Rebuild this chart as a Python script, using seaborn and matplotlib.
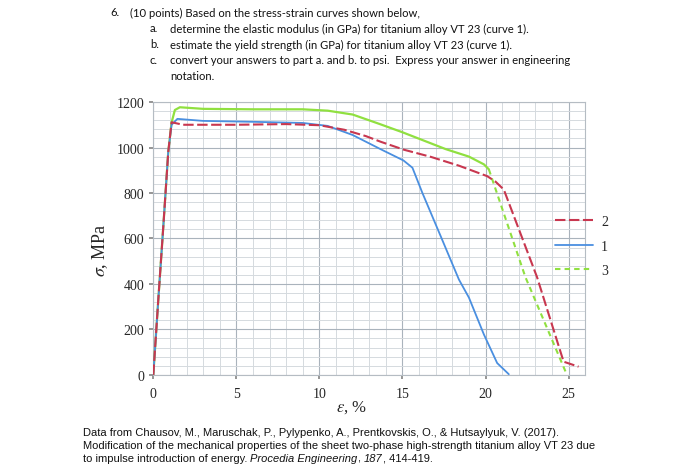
import numpy as np
import pandas as pd
import matplotlib
matplotlib.use("Agg")
import matplotlib.pyplot as plt
import seaborn as sns
from matplotlib.ticker import MultipleLocator

# Curve 1 (blue), curve 2 (red), curve 3 (green)
strain_1 = [0.0, 0.3, 0.6, 0.9, 1.1, 1.45, 3, 6, 9, 10.5, 12, 13.7, 15.06, 15.6, 16.2, 17.3, 18.4, 19.0, 19.9, 20.7, 21.4]
stress_1 = [0, 330, 650, 980, 1100, 1126, 1117, 1113, 1108, 1095, 1055, 992, 943, 911, 800, 610, 419, 340, 178, 52, 3]

strain_2 = [0.0, 0.3, 0.6, 0.9, 1.1, 1.8, 5, 8, 10, 11.5, 12.8, 13.7, 15.1, 16.7, 18.4, 20.1, 20.6, 21.1, 23.1, 24.7, 25.6]
stress_2 = [0, 330, 650, 980, 1111, 1100, 1100, 1103, 1098, 1078, 1050, 1025, 990, 959, 920, 874, 850, 815, 430, 58, 36]

strain_3 = [0.0, 0.3, 0.6, 0.9, 1.1, 1.3, 1.6, 3, 6, 9, 10.5, 12, 13.6, 15.0, 16.3, 17.6, 19.0, 19.9, 20.2]
stress_3 = [0, 330, 650, 980, 1110, 1165, 1177, 1170, 1168, 1168, 1162, 1145, 1104, 1067, 1030, 993, 960, 926, 904]
strain_3_tail = [20.2, 22.4, 24.9]
stress_3_tail = [904, 430, 0]

x_ticks = [0, 5, 10, 15, 20, 25]
y_ticks = [0, 200, 400, 600, 800, 1000, 1200]

q_marks = ["6.", "a.", "b.", "c.", ""]
q_lines = [
    "(10 points) Based on the stress-strain curves shown below,",
    "determine the elastic modulus (in GPa) for titanium alloy VT 23 (curve 1).",
    "estimate the yield strength (in GPa) for titanium alloy VT 23 (curve 1).",
    "convert your answers to part a. and b. to psi.  Express your answer in engineering",
    "notation.",
]

RED = "#c8374f"
BLUE = "#4a8fe0"
GREEN = "#90e040"

sns.set_theme(style="white")
plt.rcParams["font.family"] = ["Liberation Serif", "DejaVu Serif"]
plt.rcParams["mathtext.fontset"] = "stix"

fig = plt.figure(figsize=(7, 4.77), dpi=100)
ax = fig.add_axes([0.219, 0.212, 0.617, 0.572])

d1 = pd.DataFrame({"strain": strain_1, "stress": stress_1})
d2 = pd.DataFrame({"strain": strain_2, "stress": stress_2})
d3 = pd.DataFrame({"strain": strain_3, "stress": stress_3})
d3t = pd.DataFrame({"strain": strain_3_tail, "stress": stress_3_tail})

sns.lineplot(data=d3, x="strain", y="stress", ax=ax, color=GREEN, lw=1.6, zorder=3)
sns.lineplot(data=d3t, x="strain", y="stress", ax=ax, color=GREEN, lw=1.5, label="3", zorder=3)
ax.lines[-1].set_dashes((2.6, 2.0))
sns.lineplot(data=d1, x="strain", y="stress", ax=ax, color=BLUE, lw=1.3, label="1", zorder=4)
sns.lineplot(data=d2, x="strain", y="stress", ax=ax, color=RED, lw=1.5, label="2", zorder=5)
ax.lines[-1].set_dashes((5, 1.7))

ax.set_xlim(0, 26)
ax.set_ylim(0, 1200)
ax.set_xticks(x_ticks)
ax.set_yticks(y_ticks)
ax.xaxis.set_minor_locator(MultipleLocator(1))
ax.yaxis.set_minor_locator(MultipleLocator(40))
ax.grid(which="major", color="#aab3bc", lw=0.8)
ax.grid(which="minor", color="#d5dade", lw=0.7)
ax.set_axisbelow(True)
for s in ax.spines.values():
    s.set_color("#b5bcc3")
    s.set_linewidth(0.8)
ax.tick_params(axis="both", which="major", labelsize=10, length=3, color="#888888",
               bottom=True, left=True)
ax.tick_params(axis="x", pad=6)

ax.set_xlabel(r"$\varepsilon$, %", fontsize=12)
ax.set_ylabel(r"$\sigma$, MPa", fontsize=13)
ax.xaxis.set_label_coords(0.46, -0.117)
ax.yaxis.set_label_coords(-0.123, 0.46)
ax.xaxis.label.set_va("center")
ax.yaxis.label.set_va("center")

h, l = ax.get_legend_handles_labels()
order = [l.index("2"), l.index("1"), l.index("3")]
ax.legend([h[i] for i in order], [l[i] for i in order], frameon=False,
          loc="center left", bbox_to_anchor=(0.793, 0.482), bbox_transform=fig.transFigure,
          fontsize=10, handlelength=2.7, handletextpad=0.6, labelspacing=0.82,
          borderpad=0, borderaxespad=0)

# question text above the chart
q_y = [13, 29, 45, 61, 77]
for i in range(len(q_lines)):
    mx = 110 if i == 0 else 150
    tx = 130 if i == 0 else 170
    if q_marks[i]:
        fig.text(mx / 700, 1 - q_y[i] / 477, q_marks[i], fontsize=8.1, family="Lato",
                 va="center", color="#111111")
    fig.text(tx / 700, 1 - q_y[i] / 477, q_lines[i], fontsize=8.1, family="Lato",
             va="center", color="#111111")

# source note under the chart
src = dict(fontsize=8, family="Liberation Sans", color="#111111")
fig.text(83 / 700, 1 - 433 / 477,
         "Data from Chausov, M., Maruschak, P., Pylypenko, A., Prentkovskis, O., & Hutsaylyuk, V. (2017).",
         va="center", **src)
fig.text(83 / 700, 1 - 446 / 477,
         "Modification of the mechanical properties of the sheet two-phase high-strength titanium alloy VT 23 due",
         va="center", **src)
t = fig.text(83 / 700, 1 - 459 / 477, "to impulse introduction of energy. ", va="center", **src)
pieces = [("Procedia Engineering", "italic"), (", ", "normal"), ("187", "italic"), (", 414-419.", "normal")]
for txt, st in pieces:
    t = ax.annotate(txt, xy=(1, 0), xycoords=t, va="bottom", ha="left",
                    style=st, annotation_clip=False, **src)

fig.savefig("out.png", dpi=100)
